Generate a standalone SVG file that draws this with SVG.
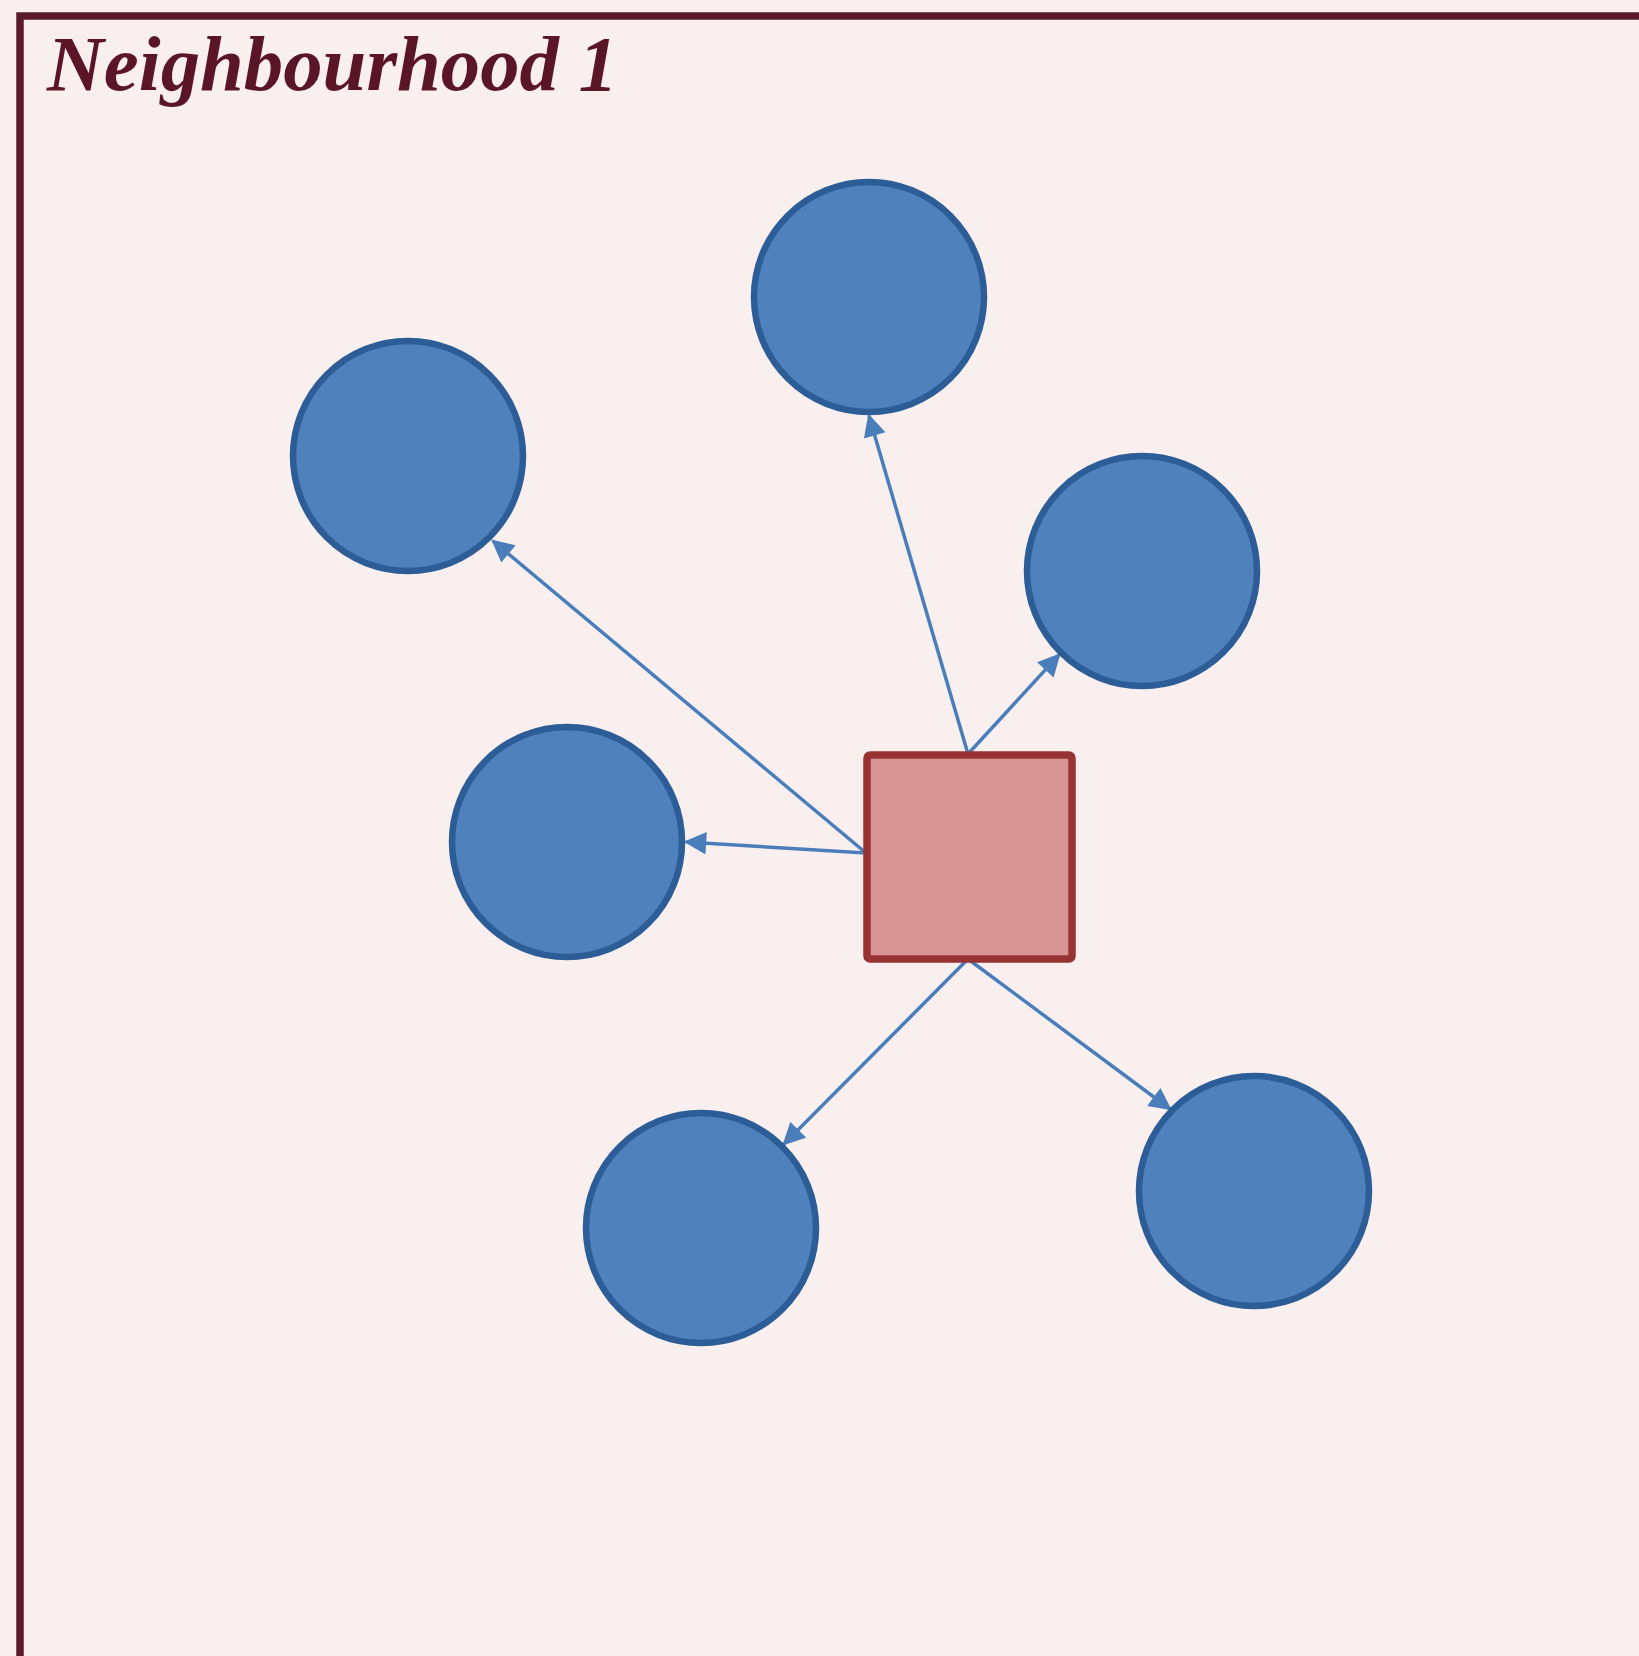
<svg xmlns="http://www.w3.org/2000/svg" width="1639" height="1656" viewBox="0 0 1639 1656">
  <defs>
    <style>
      .node-circle { fill: #4f81bd; stroke: #2c5d96; stroke-width: 6.5; }
      .hub { fill: #d99594; stroke: #983334; stroke-width: 7.5; }
      .link { stroke: #4a7ebb; stroke-width: 3.5; fill: none; marker-end: url(#arrow); }
      .title { font-family: "Liberation Serif", "DejaVu Serif", serif; font-weight: bold; font-style: italic; font-size: 78px; fill: #5a1526; }
    </style>
    <marker id="arrow" viewBox="0 0 10 10" refX="9" refY="5" markerWidth="6.8" markerHeight="6.4" orient="auto" markerUnits="strokeWidth">
      <path d="M0,0 L10,5 L0,10 Z" fill="#4a7ebb"/>
    </marker>
  </defs>

  <!-- page background -->
  <rect x="0" y="0" width="1639" height="1656" fill="#f9efef"/>

  <!-- neighbourhood frame (runs off the right and bottom edges) -->
  <path d="M20,1660 L20,16 L1645,16" fill="none" stroke="#5a1a2c" stroke-width="7.5"/>
  <text class="title" x="47" y="90" textLength="571" lengthAdjust="spacingAndGlyphs">Neighbourhood 1</text>

  <!-- connectors from the hub to each neighbour -->
  <g id="connectors">
    <line class="link" x1="866" y1="853" x2="493" y2="541"/>
    <line class="link" x1="866" y1="853" x2="686" y2="842"/>
    <line class="link" x1="968" y1="754" x2="869" y2="416"/>
    <line class="link" x1="968" y1="754" x2="1059" y2="655"/>
    <line class="link" x1="968" y1="959" x2="784" y2="1144"/>
    <line class="link" x1="968" y1="959" x2="1170" y2="1109"/>
  </g>

  <g id="hub">
    <rect class="hub" x="867" y="755" width="205" height="204" rx="3"/>
  </g>

  <g id="node-top"><circle class="node-circle" cx="869" cy="297" r="115"/></g>
  <g id="node-upper-left"><circle class="node-circle" cx="408" cy="456" r="115"/></g>
  <g id="node-right"><circle class="node-circle" cx="1142" cy="571" r="115"/></g>
  <g id="node-left"><circle class="node-circle" cx="567" cy="842" r="115"/></g>
  <g id="node-bottom"><circle class="node-circle" cx="701" cy="1228" r="115"/></g>
  <g id="node-bottom-right"><circle class="node-circle" cx="1254" cy="1191" r="115"/></g>
</svg>
